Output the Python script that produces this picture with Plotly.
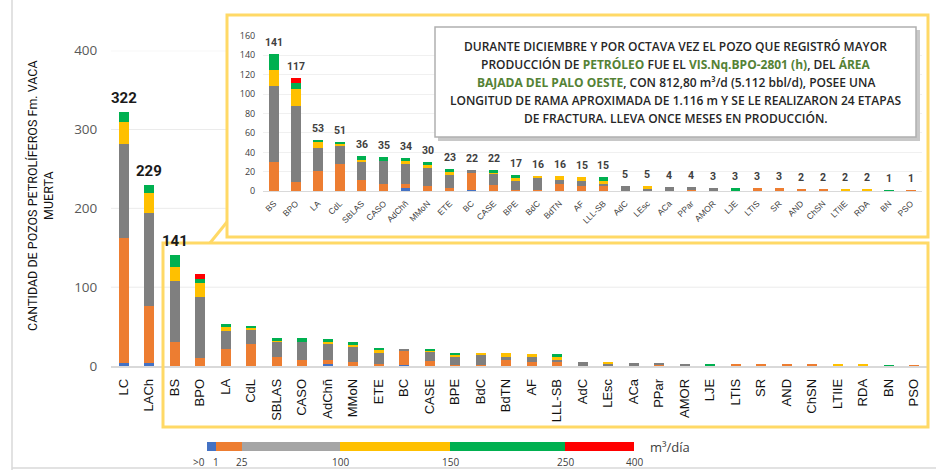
import plotly.graph_objects as go

# ---------------- data ----------------
categories = ["LC", "LACh", "BS", "BPO", "LA", "CdL", "SBLAS", "CASO", "AdChñ", "MMoN",
              "ETE", "BC", "CASE", "BPE", "BdC", "BdTN", "AF", "LLL-SB", "AdC", "LEsc",
              "ACa", "PPar", "AMOR", "LJE", "LTIS", "SR", "AND", "ChSN", "LTIIE", "RDA",
              "BN", "PSO"]

seg_names = [">0 - 1", "1 - 25", "25 - 100", "100 - 150", "150 - 250", "250 - 400"]
wells_0_1 = [4, 4, 0, 0, 0, 0, 0, 0, 3, 0, 0, 1, 0, 0, 0, 0, 0, 0, 0, 0, 0, 0, 1, 0, 0, 0, 0, 0, 0, 0, 0, 0]
wells_1_25 = [158, 72, 30, 10, 21, 28, 12, 8, 5, 5, 3, 19, 6, 1, 1, 8, 5, 5, 0, 0, 0, 1, 0, 0, 3, 3, 2, 2, 0, 0, 0, 1]
wells_25_100 = [120, 118, 78, 78, 24, 19, 19, 23, 20, 20, 14, 2, 13, 10, 14, 4, 6, 3, 5, 3, 4, 3, 2, 0, 0, 0, 0, 0, 0, 0, 0, 0]
wells_100_150 = [28, 26, 17, 17, 6, 2, 1, 0, 4, 2, 4, 0, 1, 4, 1, 4, 4, 3, 0, 2, 0, 0, 0, 0, 0, 0, 0, 0, 2, 2, 0, 0]
wells_150_250 = [12, 9, 16, 6, 2, 2, 4, 4, 2, 3, 2, 0, 2, 2, 0, 0, 0, 4, 0, 0, 0, 0, 0, 3, 0, 0, 0, 0, 0, 0, 1, 0]
wells_250_400 = [0, 0, 0, 6, 0, 0, 0, 0, 0, 0, 0, 0, 0, 0, 0, 0, 0, 0, 0, 0, 0, 0, 0, 0, 0, 0, 0, 0, 0, 0, 0, 0]
segments = [wells_0_1, wells_1_25, wells_25_100, wells_100_150, wells_150_250, wells_250_400]
totals = [sum(v) for v in zip(*segments)]

main_labelled = ["LC", "LACh", "BS"]
inset_categories = categories[2:]

legend_ticks = [">0", "1", "25", "100", "150", "250", "400"]
legend_unit = "m³/día"

# ---------------- styles ----------------
seg_colors = ["#4472C4", "#ED7D31", "#7F7F7F", "#FFC000", "#00B050", "#FF0000"]
legend_colors = ["#4472C4", "#ED7D31", "#A5A5A5", "#FFC000", "#00B050", "#FF0000"]
legend_stops = [0, 9.3, 35, 133.3, 243.3, 358.3, 427.3]  # display positions of the scale
W, H = 936, 470
YEL = "#FFD966"
GREEN_TXT = "#548235"


def fx(p):
    return p / W


def fy(p):
    return 1 - p / H


fig = go.Figure()

# main stacked bars
for name, vals, col in zip(seg_names, segments, seg_colors):
    fig.add_trace(go.Bar(x=categories, y=vals, name=name, marker_color=col,
                         marker_line_width=0, width=0.4, xaxis="x", yaxis="y",
                         showlegend=False, hoverinfo="x+y+name"))

# inset stacked bars
for name, vals, col in zip(seg_names, segments, seg_colors):
    fig.add_trace(go.Bar(x=inset_categories, y=vals[2:], name=name, marker_color=col,
                         marker_line_width=0, width=0.42, xaxis="x2", yaxis="y2",
                         showlegend=False, hoverinfo="x+y+name"))

# colour scale legend
for i, col in enumerate(legend_colors):
    fig.add_trace(go.Bar(y=[0], x=[legend_stops[i + 1] - legend_stops[i]], base=[legend_stops[i]],
                         orientation="h", marker_color=col, marker_line_width=0, width=1,
                         xaxis="x3", yaxis="y3", showlegend=False, hoverinfo="skip"))

ann = []
# main totals
for c, t in zip(categories, totals):
    if c in main_labelled:
        ann.append(dict(x=c, y=t, xref="x", yref="y", text=str(t), showarrow=False,
                        yanchor="bottom", yshift=3,
                        font=dict(family="Roboto", size=15, color="#1a1a1a", weight="bold")))
# inset totals
for c, t in zip(inset_categories, totals[2:]):
    ann.append(dict(x=c, y=t, xref="x2", yref="y2", text=str(t), showarrow=False,
                    yanchor="bottom", yshift=3,
                    font=dict(family="Roboto", size=10.5, color="#404040", weight="bold")))

# y axis title
ann.append(dict(x=fx(41), y=fy(196), xref="paper", yref="paper", showarrow=False,
                xanchor="center", yanchor="middle",
                text="CANTIDAD DE POZOS PETROLÍFEROS Fm. VACA<br>MUERTA", textangle=-90,
                font=dict(family="Roboto", size=12.5, color="#111111")))

# text box lines
g = lambda s: f"<span style='color:{GREEN_TXT}'><b>{s}</b></span>"
box_lines = [
    "DURANTE DICIEMBRE Y POR OCTAVA VEZ EL POZO QUE REGISTRÓ MAYOR",
    f"PRODUCCIÓN DE {g('PETRÓLEO')} FUE EL {g('VIS.Nq.BPO-2801 (h)')}, DEL {g('ÁREA')}",
    f"{g('BAJADA DEL PALO OESTE')}, CON 812,80 m³/d (5.112 bbl/d), POSEE UNA",
    "LONGITUD DE RAMA APROXIMADA DE 1.116 m Y SE LE REALIZARON 24 ETAPAS",
    "DE FRACTURA. LLEVA ONCE MESES EN PRODUCCIÓN.",
]
for i, line in enumerate(box_lines):
    ann.append(dict(x=fx(675.5), y=fy(46 + 18.2 * i), xref="paper", yref="paper",
                    showarrow=False, text=line, xanchor="center", yanchor="middle",
                    font=dict(family="Open Sans", size=12, color="#262626", weight=600)))

# legend tick labels
for i, t in enumerate(legend_ticks):
    ann.append(dict(x=legend_stops[i], y=fy(453), xref="x3", yref="paper", text=t, showarrow=False,
                    xanchor="right" if i == 0 else "center", yanchor="top",
                    font=dict(family="Open Sans", size=10, color="#404040")))
ann.append(dict(x=fx(648), y=fy(447), xref="paper", yref="paper", text=legend_unit,
                showarrow=False, xanchor="left", yanchor="middle",
                font=dict(family="Open Sans", size=13, color="#404040")))

shapes = []
# frame
shapes.append(dict(type="line", xref="paper", yref="paper", x0=fx(12), x1=fx(12), y0=0, y1=1,
                   line=dict(color="#D9D9D9", width=1.5), layer="below"))
shapes.append(dict(type="line", xref="paper", yref="paper", x0=fx(12), x1=1, y0=fy(468), y1=fy(468),
                   line=dict(color="#D9D9D9", width=1.5), layer="below"))
# main gridlines (hidden behind the inset frame)
for v in [100, 200, 300, 400]:
    x_end = 927 if v == 100 else 227
    shapes.append(dict(type="line", xref="paper", yref="y", x0=fx(111), x1=fx(x_end), y0=v, y1=v,
                       line=dict(color="#EBEBEB", width=1), layer="below"))
# yellow frames
shapes.append(dict(type="rect", xref="paper", yref="paper", x0=fx(227), x1=fx(928), y0=fy(237), y1=fy(15),
                   line=dict(color=YEL, width=3), layer="above"))
shapes.append(dict(type="rect", xref="paper", yref="paper", x0=fx(163), x1=fx(928), y0=fy(427), y1=fy(243),
                   line=dict(color=YEL, width=3), layer="above"))
shapes.append(dict(type="line", xref="paper", yref="paper", x0=fx(210), x1=fx(227), y0=fy(243), y1=fy(222),
                   line=dict(color=YEL, width=3), layer="above"))
# text box with shadow
shapes.append(dict(type="rect", xref="paper", yref="paper", x0=fx(438), x1=fx(920), y0=fy(141), y1=fy(30),
                   fillcolor="#C8C8C8", line=dict(width=0), layer="above"))
shapes.append(dict(type="rect", xref="paper", yref="paper", x0=fx(435), x1=fx(916), y0=fy(137), y1=fy(27),
                   fillcolor="white", line=dict(color="#B0B0B0", width=1.5), layer="above"))

fig.update_layout(
    width=W, height=H, autosize=False,
    margin=dict(l=0, r=0, t=0, b=0, autoexpand=False),
    paper_bgcolor="white", plot_bgcolor="rgba(0,0,0,0)",
    barmode="stack",
    showlegend=False,
    annotations=ann,
    shapes=shapes,
    xaxis=dict(domain=[fx(111), fx(927)], range=[-0.5, 31.5], anchor="y", automargin=False,
               categoryorder="array", categoryarray=categories,
               tickangle=-90, tickfont=dict(family="Liberation Sans, Arial", size=13, color="#111111"),
               showline=True, linecolor="#D9D9D9", linewidth=1.5, showgrid=False,
               ticks="outside", ticklen=6, tickcolor="rgba(0,0,0,0)"),
    yaxis=dict(domain=[fy(366), fy(50.7)], range=[0, 400], anchor="x", dtick=100, automargin=False,
               showgrid=False, zeroline=False,
               tickfont=dict(family="Open Sans", size=13.5, color="#595959"),
               ticks="outside", ticklen=10, tickcolor="rgba(0,0,0,0)"),
    xaxis2=dict(domain=[fx(263), fx(922)], range=[-0.5, 29.5], anchor="y2", automargin=False,
                categoryorder="array", categoryarray=inset_categories,
                tickangle=-45, tickfont=dict(family="Liberation Sans, Arial", size=8.5, color="#404040"),
                showline=True, linecolor="#D9D9D9", linewidth=1, showgrid=False,
                ticks="outside", ticklen=3, tickcolor="rgba(0,0,0,0)"),
    yaxis2=dict(domain=[fy(191.3), fy(35.7)], range=[0, 160], anchor="x2", dtick=20, automargin=False,
                showgrid=True, gridcolor="#F0F0F0", zeroline=False,
                tickfont=dict(family="Open Sans", size=9, color="#404040"),
                ticks="outside", ticklen=5, tickcolor="rgba(0,0,0,0)"),
    xaxis3=dict(domain=[fx(206.7), fx(634)], range=[0, legend_stops[-1]], anchor="y3",
                visible=False, fixedrange=True, automargin=False),
    yaxis3=dict(domain=[fy(451), fy(441.7)], range=[-0.5, 0.5], anchor="x3",
                visible=False, fixedrange=True, automargin=False),
)

fig.write_html("out.html", config={"displayModeBar": False},
               post_script="document.body.style.margin='0px';")
